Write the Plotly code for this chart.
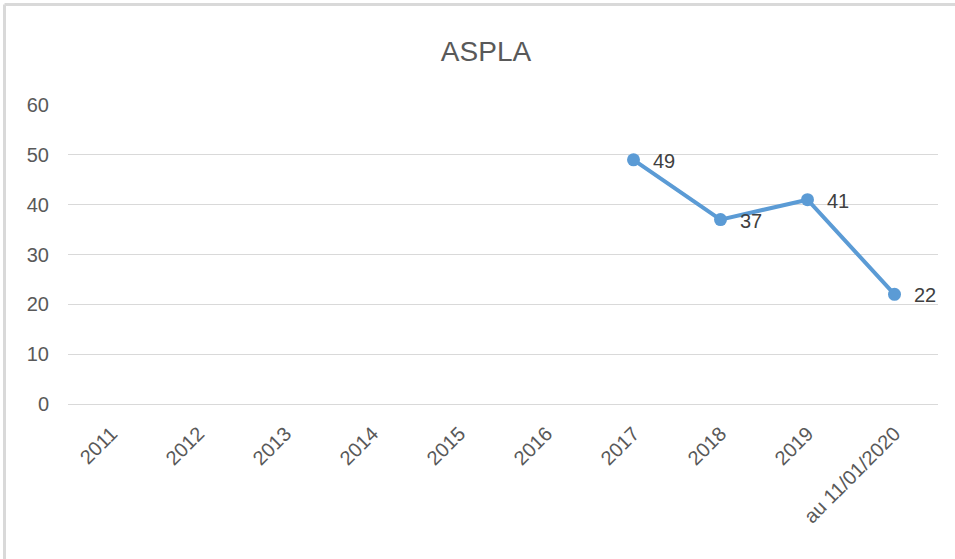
import plotly.graph_objects as go

categories = ["2011", "2012", "2013", "2014", "2015", "2016", "2017", "2018", "2019", "au 11/01/2020"]
values = [None, None, None, None, None, None, 49, 37, 41, 22]
y_ticks = [0, 10, 20, 30, 40, 50, 60]

W, H = 955, 559
L, R, T, B = 68, 17, 105, 155
pw, ph = W - L - R, H - T - B

def px_x(p):
    return (p - L) / pw

def px_y(p):
    return (H - B - p) / ph

FONT = "Liberation Sans, Arial"

fig = go.Figure()
fig.add_trace(go.Scatter(
    x=categories, y=values, mode="lines+markers",
    line=dict(color="#5B9BD5", width=4),
    marker=dict(color="#5B9BD5", size=13),
    connectgaps=False,
    cliponaxis=False,
    showlegend=False,
))

annotations = []
for i, v in enumerate(values):
    if v is None:
        continue
    annotations.append(dict(
        x=i, y=v, xref="x", yref="y", text=str(v), showarrow=False,
        xanchor="left", yanchor="middle", xshift=17, yshift=-1,
        font=dict(family=FONT, size=20, color="#404040"),
    ))

fig.update_layout(
    width=W, height=H,
    margin=dict(l=L, r=R, t=T, b=B),
    paper_bgcolor="white", plot_bgcolor="white",
    title=dict(text="ASPLA", x=px_x(486), xanchor="center", xref="paper",
               y=1 - 51 / H, yref="container", yanchor="middle",
               font=dict(family=FONT, size=28, color="#595959")),
    xaxis=dict(type="category", categoryorder="array", categoryarray=categories,
               tickangle=-45, showgrid=False, showline=False, ticks="",
               ticklabelstandoff=13,
               tickfont=dict(family=FONT, size=20, color="#595959"),
               range=[-0.5, len(categories) - 0.5]),
    yaxis=dict(range=[0, 60], tickvals=y_ticks, showgrid=True, gridcolor="#d9d9d9",
               gridwidth=1, zeroline=True, zerolinecolor="#d9d9d9", zerolinewidth=1,
               showline=False, ticks="", ticklabelstandoff=18,
               tickfont=dict(family=FONT, size=20, color="#595959")),
    annotations=annotations,
    shapes=[
        dict(type="line", xref="paper", yref="paper",
             x0=px_x(4.5), x1=px_x(960), y0=px_y(4.5), y1=px_y(4.5),
             line=dict(color="#d9d9d9", width=3)),
        dict(type="line", xref="paper", yref="paper",
             x0=px_x(4.5), x1=px_x(4.5), y0=px_y(4.5), y1=px_y(565),
             line=dict(color="#d9d9d9", width=3)),
    ],
)

fig.write_html("out.html", config={"displayModeBar": False},
               post_script="document.body.style.margin='0';")
